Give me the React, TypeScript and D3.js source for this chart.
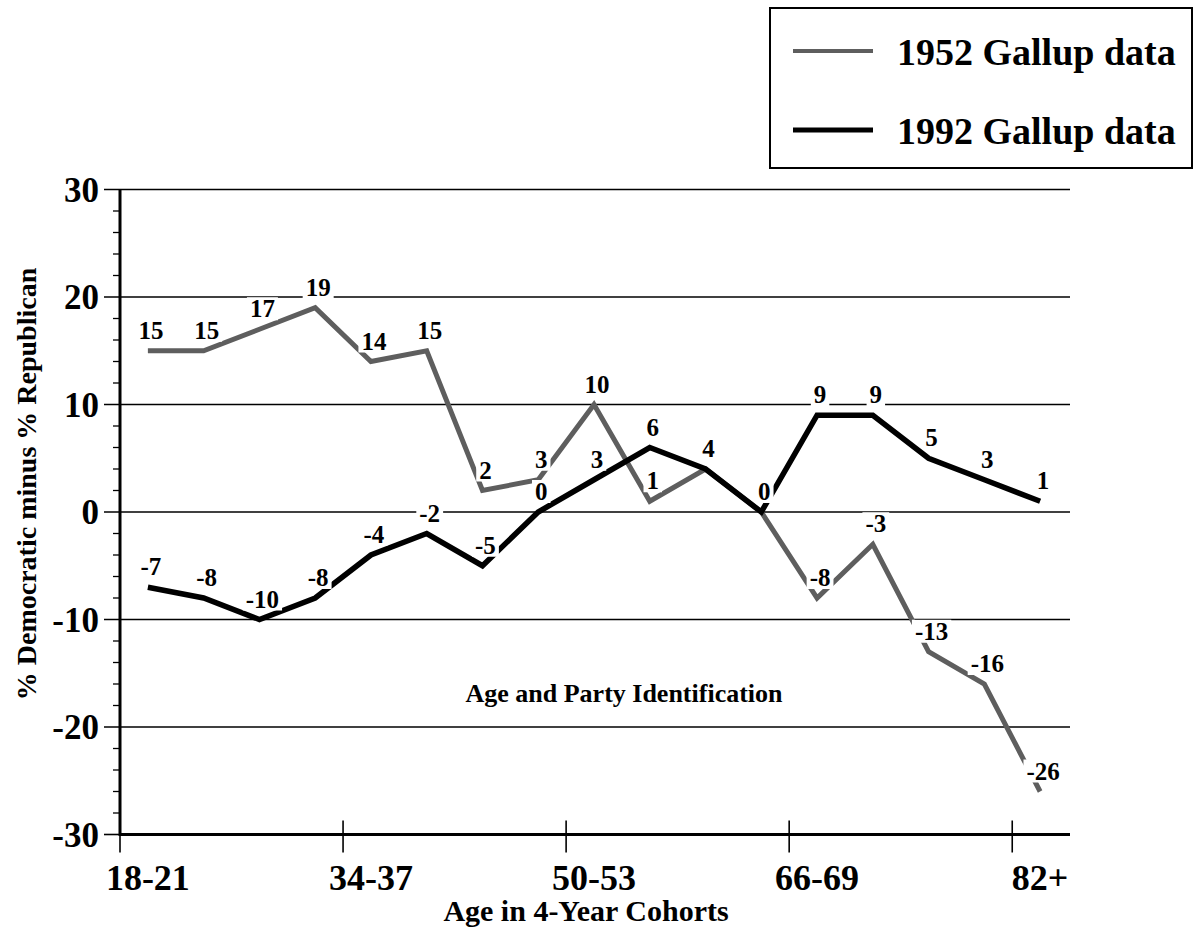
import React from 'react'
import * as d3 from 'd3'

// age cohorts, 4-year bands
const cohorts = ['18-21', '22-25', '26-29', '30-33', '34-37', '38-41', '42-45', '46-49', '50-53', '54-57', '58-61', '62-65', '66-69', '70-73', '74-77', '78-81', '82+']
const gallup1952 = [15, 15, 17, 19, 14, 15, 2, 3, 10, 1, 4, 0, -8, -3, -13, -16, -26]
const gallup1992 = [-7, -8, -10, -8, -4, -2, -5, 0, 3, 6, 4, 0, 9, 9, 5, 3, 1]
const tickCohorts = ['18-21', '34-37', '50-53', '66-69', '82+']
const yTicks = [-30, -20, -10, 0, 10, 20, 30]
const legendItems = ['1952 Gallup data', '1992 Gallup data']

const W = 1193
const H = 933
const FONT = '"Liberation Serif", "Times New Roman", Times, serif'
const GRAY = '#5e5e5e'
const LABEL_SIZE = 25

// rough Times bold advance widths, used to size the white knock-out behind a label
function labelWidth(s: string) {
  let w = 0
  for (const ch of s) w += ch === '-' ? 0.333 : 0.5
  return w * LABEL_SIZE
}

export default function App() {
  const x = d3.scaleBand<string>().domain(cohorts).range([120, 1068]).padding(0)
  const y = d3.scaleLinear().domain([-30, 30]).range([834.5, 189.5])
  const cx = (c: string) => (x(c) ?? 0) + x.bandwidth() / 2
  const [x0, x1] = x.range()

  const line = d3
    .line<number>()
    .x((_, i) => cx(cohorts[i]))
    .y((d) => y(d))

  const minor = d3.range(-30, 31, 2).filter((v) => v % 10 !== 0)

  // one label per point; where both years agree only one number is printed
  const labels: { v: number; i: number }[] = []
  gallup1952.forEach((v, i) => {
    if (v !== gallup1992[i]) labels.push({ v, i })
  })
  gallup1992.forEach((v, i) => labels.push({ v, i }))

  return (
    <svg width={W} height={H} style={{ position: 'absolute', left: 0, top: 0, background: '#fff' }} fontFamily={FONT} fontWeight="bold">
      {/* gridlines */}
      {yTicks.filter((t) => t !== -30).map((t) => (
        <line key={t} x1={x0 - 16} x2={x1 + 2} y1={y(t)} y2={y(t)} stroke="#000" strokeWidth={1.6} />
      ))}
      {minor.map((t) => (
        <line key={'m' + t} x1={x0 - 7} x2={x0} y1={y(t)} y2={y(t)} stroke="#000" strokeWidth={1.3} />
      ))}
      <line x1={x0 - 16} x2={x0} y1={y(-30)} y2={y(-30)} stroke="#000" strokeWidth={1.6} />
      {/* axes */}
      <line x1={x0} x2={x0} y1={y(30)} y2={y(-30) + 1.5} stroke="#000" strokeWidth={3} />
      <line x1={x0} x2={x1 + 2} y1={y(-30)} y2={y(-30)} stroke="#000" strokeWidth={3} />
      {tickCohorts.map((c) => (
        <g key={c}>
          <line x1={x(c)} x2={x(c)} y1={y(-30) - 14} y2={y(-30) + 18} stroke="#000" strokeWidth={1.6} />
          <text x={cx(c)} y={y(-30) + 55} textAnchor="middle" fontSize={36}>{c}</text>
        </g>
      ))}
      {yTicks.map((t) => (
        <text key={'yl' + t} x={x0 - 21} y={y(t)} dy="0.35em" textAnchor="end" fontSize={35}>{t}</text>
      ))}

      {/* series */}
      <path d={line(gallup1952) ?? ''} fill="none" stroke={GRAY} strokeWidth={5} />
      <path d={line(gallup1992) ?? ''} fill="none" stroke="#000" strokeWidth={5.5} />

      {/* point labels, each on a white knock-out box */}
      {labels.map((l, k) => {
        const s = String(l.v)
        const w = labelWidth(s)
        const lx = cx(cohorts[l.i]) + 3
        const ly = y(l.v) - 12
        return (
          <g key={k}>
            <rect x={lx - w / 2 - 3} y={ly - 20} width={w + 6} height={23} fill="#fff" />
            <text x={lx} y={ly} textAnchor="middle" fontSize={LABEL_SIZE} fill="#000">
              {s}
            </text>
          </g>
        )
      })}

      <text x={624} y={702} textAnchor="middle" fontSize={26}>Age and Party Identification</text>

      {/* axis titles */}
      <text x={586} y={921} textAnchor="middle" fontSize={30}>Age in 4-Year Cohorts</text>
      <text transform="translate(36,484) rotate(-90)" textAnchor="middle" fontSize={28}>% Democratic minus % Republican</text>

      {/* legend */}
      <rect x={770} y={8} width={422} height={160} fill="#fff" stroke="#000" strokeWidth={2} />
      {legendItems.map((name, i) => (
        <g key={name} transform={`translate(0,${i === 0 ? 51 : 130})`}>
          <line x1={793} x2={873} y1={0} y2={0} stroke={i === 0 ? GRAY : '#000'} strokeWidth={i === 0 ? 4 : 5} />
          <text x={897} y={0} dy="0.36em" fontSize={38}>{name}</text>
        </g>
      ))}
    </svg>
  )
}
